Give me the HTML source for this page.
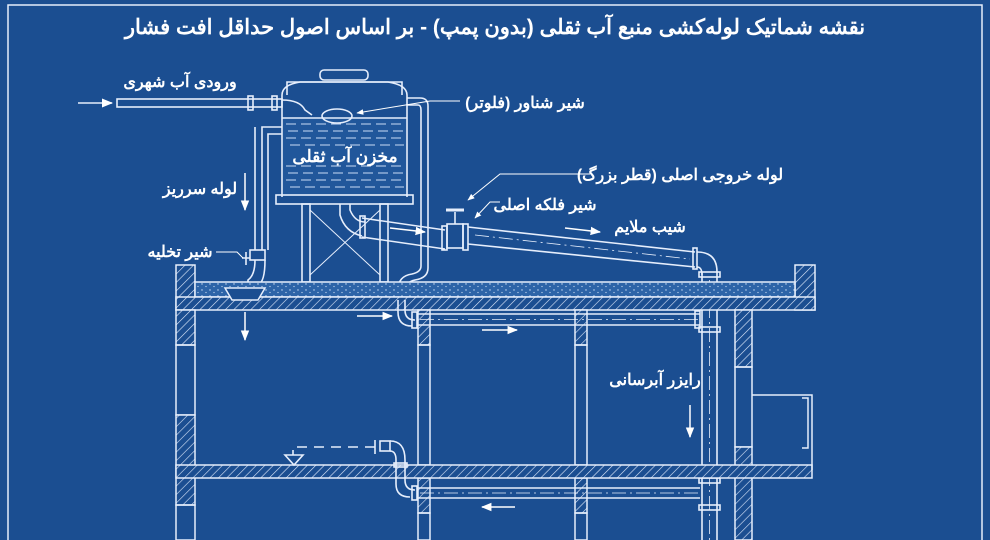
<!DOCTYPE html>
<html><head><meta charset="utf-8"><style>
html,body{margin:0;padding:0;background:#1b4e91;}
svg{display:block}
text{font-family:"Liberation Sans","Noto Sans CJK SC",sans-serif;fill:#fff;font-weight:bold;}
</style></head><body>
<svg width="990" height="540" viewBox="0 0 990 540" xmlns="http://www.w3.org/2000/svg">
<defs>
<pattern id="h" width="6" height="6" patternUnits="userSpaceOnUse" patternTransform="rotate(45)">
<rect width="6" height="6" fill="#1b4e91"/><line x1="0" y1="0" x2="0" y2="6" stroke="#dfe9fb" stroke-width="1.2"/></pattern>
<pattern id="g" width="8" height="6" patternUnits="userSpaceOnUse">
<rect width="8" height="6" fill="#2d64a8"/><circle cx="2" cy="2" r="0.7" fill="#cfe0f7"/><circle cx="6" cy="4.5" r="0.6" fill="#cfe0f7"/></pattern>
<marker id="a" viewBox="0 0 10 10" refX="9" refY="5" markerWidth="7" markerHeight="7" orient="auto"><path d="M0,1 L10,5 L0,9 z" fill="#fff"/></marker>
</defs>
<rect width="990" height="540" fill="#1b4e91"/>
<g fill="none" stroke="#e6eefc" stroke-width="1.5">
<path d="M8,540 V5 H982 V540"/>
</g>
<text x="495" y="34" font-size="21" text-anchor="middle">نقشه شماتیک لوله‌کشی منبع آب ثقلی (بدون پمپ) - بر اساس اصول حداقل افت فشار</text>

<rect x="283" y="118" width="123" height="78" fill="#21579b"/>
<g fill="none" stroke="#e6eefc" stroke-width="1.6">
<line x1="78" y1="103" x2="112" y2="103" marker-end="url(#a)"/>
<rect x="117" y="99" width="165" height="8"/>
<rect x="248" y="96" width="5" height="14"/><rect x="272" y="96" width="5" height="14"/>
<path d="M282,100 Q300,100 305,110 L312,115"/>
<rect x="320" y="70" width="48" height="10" rx="4"/>
<path d="M287,95 V82 H402 V95"/>
<path d="M282,197 V95 Q282,85 300,82 L388,82 Q407,85 407,95 V197"/>
<rect x="276" y="195" width="137" height="9"/>
<ellipse cx="337" cy="116" rx="15" ry="7"/>
<line x1="282" y1="118" x2="407" y2="118"/>
<rect x="302" y="204" width="8" height="78"/><rect x="380" y="204" width="8" height="78"/>
<path d="M310,210 L380,275 M380,210 L310,275" stroke-width="1"/>
<path d="M282,127 H262 V250 M282,134 H268 V250"/>
<path d="M255,127 V250" />
<rect x="250" y="250" width="15" height="10"/>
<path d="M246,252 V265 M250,258 h-8" />
<path d="M255,260 Q255,275 248,280 V290 M265,260 Q265,282 258,285 V290"/>
<path d="M407,98 H420 Q428,98 428,106 V268 Q428,278 415,280 Q405,282 405,292 V300 M407,105 H418 Q421,105 421,110 V266 Q421,272 412,274 Q398,276 398,290 V300"/>
<path d="M340,204 V215 Q345,232 362,236 M350,204 V210 Q355,222 365,222"/>
<path d="M362,218 L445,230 M362,237 L445,249"/>
<rect x="360" y="216" width="5" height="22"/>
<rect x="442" y="226" width="5" height="24"/>
<rect x="447" y="224" width="16" height="24"/>
<line x1="455" y1="224" x2="455" y2="212"/><line x1="446" y1="210" x2="464" y2="210" stroke-width="3"/>
<rect x="463" y="224" width="5" height="26"/>
<path d="M468,227 L695,252 M468,244 L695,267"/>
<path d="M475,235 L690,259" stroke-width="0.8" stroke-dasharray="14,4,2,4"/>
<rect x="693" y="248" width="4" height="21"/>
<path d="M697,252 Q717,252 717,272 M697,267 Q702,267 702,275"/>
<path d="M702,272 V540 M717,272 V540"/>
<path d="M709.5,280 V540" stroke-width="0.8" stroke-dasharray="14,4,2,4"/>
<rect x="699" y="272" width="21" height="5"/><rect x="699" y="300" width="21" height="5"/><rect x="699" y="327" width="21" height="5"/>
<rect x="699" y="478" width="21" height="5"/><rect x="699" y="505" width="21" height="5"/>
<line x1="709" y1="285" x2="709" y2="300" marker-end="url(#a)" stroke-width="1"/>
</g>
<g stroke="#c9dbf5" stroke-width="1" stroke-dasharray="10,5">
<line x1="286" y1="124" x2="404" y2="124"/><line x1="288" y1="131" x2="404" y2="131"/><line x1="286" y1="138" x2="404" y2="138"/>
<line x1="290" y1="145" x2="404" y2="145"/><line x1="286" y1="166" x2="404" y2="166"/><line x1="288" y1="173" x2="404" y2="173"/>
<line x1="286" y1="180" x2="404" y2="180"/><line x1="290" y1="187" x2="404" y2="187"/>
</g>

<g stroke="#e6eefc" stroke-width="1.5">
<rect x="176" y="265" width="19" height="45" fill="url(#h)"/>
<rect x="795" y="265" width="20" height="45" fill="url(#h)"/>
<rect x="195" y="282" width="600" height="15" fill="url(#g)"/>
<rect x="176" y="297" width="639" height="13" fill="url(#h)"/>
<path d="M225,288 H265 L258,300 H232 Z" fill="#1b4e91"/>
<rect x="176" y="310" width="19" height="35" fill="url(#h)"/>
<rect x="176" y="345" width="19" height="70" fill="none"/>
<rect x="176" y="415" width="19" height="90" fill="url(#h)"/>
<rect x="176" y="505" width="19" height="35" fill="none"/>
<rect x="418" y="310" width="12" height="35" fill="url(#h)"/><rect x="418" y="345" width="12" height="120" fill="none"/>
<rect x="575" y="310" width="12" height="35" fill="url(#h)"/><rect x="575" y="345" width="12" height="120" fill="none"/>
<rect x="418" y="478" width="12" height="35" fill="url(#h)"/><rect x="418" y="513" width="12" height="27" fill="none"/>
<rect x="575" y="478" width="12" height="35" fill="url(#h)"/><rect x="575" y="513" width="12" height="27" fill="none"/>
<rect x="735" y="310" width="17" height="57" fill="url(#h)"/>
<rect x="735" y="367" width="17" height="80" fill="none"/>
<rect x="735" y="447" width="17" height="93" fill="url(#h)"/>
<rect x="176" y="465" width="636" height="13" fill="url(#h)"/>
<path d="M752,395 H812 V470 M802,398 H808 V448 H802" fill="none"/>
</g>
<g fill="none" stroke="#e6eefc" stroke-width="1.6">
<path d="M405,300 V310 Q405,320 415,320 M398,300 V312 Q398,326 412,326"/>
<rect x="412" y="312" width="5" height="16"/>
<path d="M417,314 H700 M417,325 H700"/>
<path d="M420,319.5 H698" stroke-width="0.7" stroke-dasharray="14,4,2,4"/>
<rect x="695" y="311" width="5" height="17"/>
<line x1="375" y1="440" x2="375" y2="454"/>
<rect x="380" y="441" width="10" height="10"/>
<path d="M390,441 Q405,441 405,460 V480 Q405,490 415,490 M390,451 Q396,451 396,460 V484 Q396,497 410,497"/>
<rect x="394" y="463" width="13" height="4"/>
<rect x="412" y="486" width="5" height="14"/>
<path d="M417,488 H700 M417,498 H700"/>
<path d="M420,493 H698" stroke-width="0.7" stroke-dasharray="14,4,2,4"/>
<path d="M375,447 H293 V455" stroke-dasharray="10,7"/>
<path d="M285,455 H303 L294,465 Z"/>
</g>
<g stroke="#fff" stroke-width="1.5" fill="none">
<line x1="245" y1="173" x2="245" y2="210" marker-end="url(#a)"/>
<line x1="245" y1="312" x2="245" y2="340" marker-end="url(#a)"/>
<line x1="357" y1="316" x2="392" y2="316" marker-end="url(#a)"/>
<line x1="482" y1="330" x2="517" y2="330" marker-end="url(#a)"/>
<line x1="515" y1="507" x2="482" y2="507" marker-end="url(#a)"/>
<line x1="390" y1="228" x2="425" y2="232" marker-end="url(#a)"/>
<line x1="565" y1="228" x2="600" y2="232" marker-end="url(#a)"/>
<line x1="690" y1="405" x2="690" y2="437" marker-end="url(#a)"/>
<path d="M460,101 H430 L357,113" stroke-width="1" marker-end="url(#a)"/>
<path d="M590,174 H500 L468,200" stroke-width="1" marker-end="url(#a)"/>
<path d="M500,202 H490 L475,218" stroke-width="1" marker-end="url(#a)"/>
<path d="M216,252 H237 L243,258" stroke-width="1"/>
</g>
<g font-size="16">
<text x="180" y="87" text-anchor="middle">ورودی آب شهری</text>
<text x="525" y="108" text-anchor="middle">شیر شناور (فلوتر)</text>
<text x="345" y="162" text-anchor="middle" font-size="17">مخزن آب ثقلی</text>
<text x="200" y="194" text-anchor="middle">لوله سرریز</text>
<text x="180" y="257" text-anchor="middle">شیر تخلیه</text>
<text x="680" y="180" text-anchor="middle">لوله خروجی اصلی (قطر بزرگ)</text>
<text x="545" y="210" text-anchor="middle">شیر فلکه اصلی</text>
<text x="650" y="232" text-anchor="middle">شیب ملایم</text>
<text x="655" y="385" text-anchor="middle">رایزر آبرسانی</text>
</g>
</svg>
</body></html>
